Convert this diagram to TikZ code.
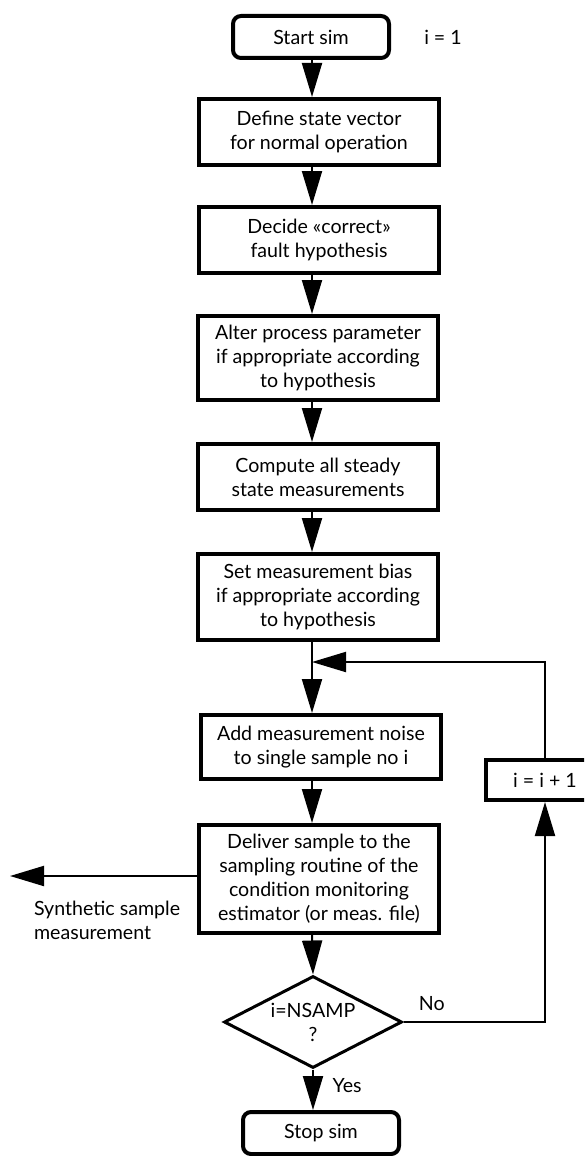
\documentclass[tikz,border=0pt]{standalone}
\usepackage{fontspec}
\setmainfont{Lato}
\usetikzlibrary{arrows.meta,shapes.geometric}

\begin{document}
\begin{tikzpicture}[x=0.5pt, y=-0.5pt,
    every node/.style={font=\fontsize{9.8}{12}\selectfont},
    procbox/.style={draw, line width=2pt, minimum width=120pt, align=center, inner sep=2pt},
    termbox/.style={draw, line width=2pt, rounded corners=4pt, minimum width=78pt, minimum height=21pt},
    flow/.style={line width=1pt, -{Triangle[length=17pt,width=10pt]}}]
	\clip (0,0) rectangle (584,1156);

	\node[termbox] (start) at (311,37) {Start sim};
	\node (i1) at (443,37) {i = 1};
	\node[procbox, minimum height=33pt] (def) at (319,132) {Define state vector\\for normal operation};
	\node[procbox, minimum height=33pt] (dec) at (319,240) {Decide «correct»\\fault hypothesis};
	\node[procbox, minimum height=42pt] (alt) at (318,358) {Alter process parameter\\if appropriate according\\to hypothesis};
	\node[procbox, minimum height=33pt] (comp) at (318,477) {Compute all steady\\state measurements};
	\node[procbox, minimum height=43pt] (setb) at (318,597) {Set measurement bias\\if appropriate according\\to hypothesis};
	\node[procbox, minimum height=32pt] (add) at (321,747) {Add measurement noise\\to single sample no i};
	\node[procbox, minimum height=54pt] (deliv) at (319,879) {Deliver sample to the\\sampling routine of the\\condition monitoring\\estimator (or meas. file)};
	\node[draw, diamond, line width=1.5pt, aspect=2, inner sep=0pt, minimum width=89pt, minimum height=46pt, align=center] (dia) at (313,1022) {i=NSAMP\\?};
	\node[termbox] (stop) at (321,1133) {Stop sim};
	\node[procbox, minimum width=59pt, minimum height=20pt] (inc) at (545,780) {i = i + 1};
	\node[anchor=west, align=left] (synth) at (27,920) {Synthetic sample\\measurement};

	\coordinate (spine) at (312,0);
	\coordinate (join) at (312,662);
	\coordinate (turn) at (545,662);
	\coordinate (nocorner) at (545,1022);
	\coordinate (out) at (10,876);

	% main chain
	\draw[flow] (start.south -| spine) -- (def.north -| spine);
	\draw[flow] (def.south -| spine) -- (dec.north -| spine);
	\draw[flow] (dec.south -| spine) -- (alt.north -| spine);
	\draw[flow] (alt.south -| spine) -- (comp.north -| spine);
	\draw[flow] (comp.south -| spine) -- (setb.north -| spine);
	\draw[flow] (setb.south -| spine) -- (add.north -| spine);
	\draw[flow] (add.south -| spine) -- (deliv.north -| spine);
	\draw[flow] (deliv.south -| spine) -- (dia.north);
	\draw[flow] (dia.south) -- node[pos=0.4, right=6pt] {Yes} (stop.north -| dia);

	% loop back
	\draw[flow] (dia.east) -- node[pos=0.2, above=2pt] {No} (nocorner) -- (inc.south);
	\draw[flow] (inc.north) -- (turn) -- (join);

	% output
	\draw[flow] (deliv.west |- out) -- (out);
\end{tikzpicture}
\end{document}
